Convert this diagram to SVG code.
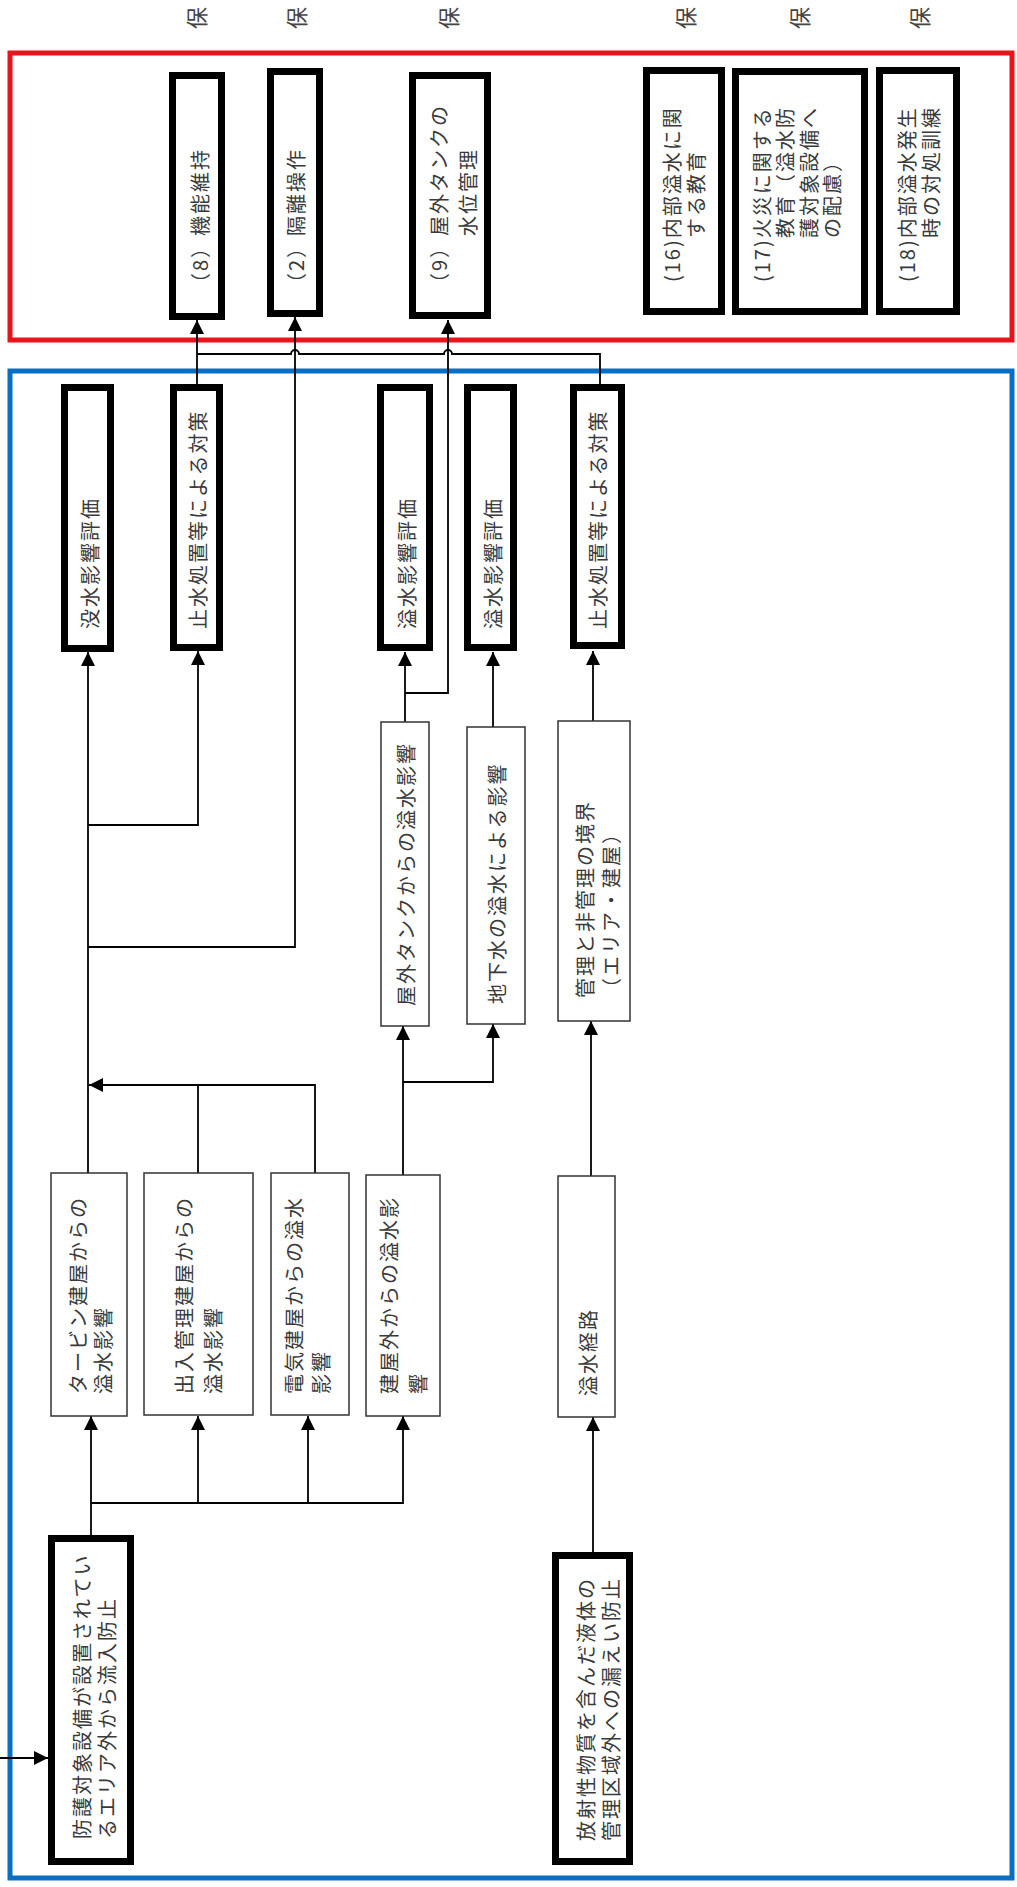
<svg xmlns="http://www.w3.org/2000/svg" width="1017" height="1887" viewBox="0 0 1017 1887">
<style>
.t{font-family:"Noto Sans CJK JP","Noto Sans",sans-serif;font-size:20px;letter-spacing:2px;fill:#3a3a3a;dominant-baseline:central}
.h{font-family:"Noto Sans CJK JP","Noto Sans",sans-serif;font-size:22px;fill:#444;dominant-baseline:central;text-anchor:middle}
.thick{fill:#fff;stroke:#000;stroke-width:7}
.thin{fill:#fff;stroke:#333;stroke-width:1.5}
.c{fill:none;stroke:#000;stroke-width:1.8}
</style>
<defs>
<marker id="ar" markerUnits="userSpaceOnUse" markerWidth="14" markerHeight="14" refX="14" refY="7" orient="auto">
<path d="M0,0 L14,7 L0,14 z" fill="#000"/>
</marker>
</defs>
<rect width="1017" height="1887" fill="#fff"/>

<g id="labels">
<text class="h" transform="translate(195,18) rotate(-90)">保</text>
<text class="h" transform="translate(295,18) rotate(-90)">保</text>
<text class="h" transform="translate(447,18) rotate(-90)">保</text>
<text class="h" transform="translate(684,18) rotate(-90)">保</text>
<text class="h" transform="translate(798,18) rotate(-90)">保</text>
<text class="h" transform="translate(918,18) rotate(-90)">保</text>
</g>

<g id="frames">
<rect id="red-frame" x="10" y="53" width="1002" height="287" fill="none" stroke="#e8141b" stroke-width="5"/>
<rect id="blue-frame" x="10" y="371" width="1002" height="1507" fill="none" stroke="#0a6fc2" stroke-width="5"/>
</g>

<g id="connectors">
<path class="c" d="M0,1758 H48" marker-end="url(#ar)"/>
<path class="c" d="M91,1535 V1416" marker-end="url(#ar)"/>
<path class="c" d="M91,1503 H403 V1416" marker-end="url(#ar)"/>
<path class="c" d="M198,1503 V1416" marker-end="url(#ar)"/>
<path class="c" d="M308,1503 V1416" marker-end="url(#ar)"/>
<path class="c" d="M88,1173 V652" marker-end="url(#ar)"/>
<path class="c" d="M198,1173 V1085"/>
<path class="c" d="M315,1173 V1085 H89" marker-end="url(#ar)"/>
<path class="c" d="M88,947 H295 V317" marker-end="url(#ar)"/>
<path class="c" d="M88,825 H198 V651" marker-end="url(#ar)"/>
<path class="c" d="M403,1175 V1026" marker-end="url(#ar)"/>
<path class="c" d="M403,1082 H493 V1024" marker-end="url(#ar)"/>
<path class="c" d="M405,722 V652" marker-end="url(#ar)"/>
<path class="c" d="M405,693 H448 V320" marker-end="url(#ar)"/>
<path class="c" d="M493,727 V652" marker-end="url(#ar)"/>
<path class="c" d="M593,1552 V1417" marker-end="url(#ar)"/>
<path class="c" d="M591,1176 V1021" marker-end="url(#ar)"/>
<path class="c" d="M593,721 V651" marker-end="url(#ar)"/>
<path class="c" d="M197,384 V320" marker-end="url(#ar)"/>
<path class="c" d="M600,384 V354 H452 a4,4 0 0 0 -8,0 H299 a4,4 0 0 0 -8,0 H197"/>
</g>

<g id="n8"><rect class="thick" x="172.5" y="75.5" width="49" height="241"/>
<text class="t" transform="translate(199,293) rotate(-90)">（8）機能維持</text></g>
<g id="n2"><rect class="thick" x="270.5" y="71.5" width="49" height="242"/>
<text class="t" transform="translate(295,293) rotate(-90)">（2）隔離操作</text></g>
<g id="n9"><rect class="thick" x="412.5" y="75.5" width="75" height="240"/>
<text class="t" transform="translate(452,293) rotate(-90)"><tspan x="0" y="-14.5">（9）屋外タンクの</tspan><tspan x="57" y="14.5">水位管理</tspan></text></g>
<g id="n16"><rect class="thick" x="646.5" y="70.5" width="75" height="241"/>
<text class="t" transform="translate(683,282) rotate(-90)"><tspan x="0" y="-12">(16)内部溢水に関</tspan><tspan x="44" y="12">する教育</tspan></text></g>
<g id="n17"><rect class="thick" x="735.5" y="71.5" width="129" height="240"/>
<text class="t" transform="translate(796,282) rotate(-90)"><tspan x="0" y="-35">(17)火災に関する</tspan><tspan x="44" y="-11.7">教育（溢水防</tspan><tspan x="44" y="11.7">護対象設備へ</tspan><tspan x="44" y="35">の配慮）</tspan></text></g>
<g id="n18"><rect class="thick" x="879.5" y="70.5" width="77" height="241"/>
<text class="t" transform="translate(917.5,282) rotate(-90)"><tspan x="0" y="-12">(18)内部溢水発生</tspan><tspan x="44" y="12">時の対処訓練</tspan></text></g>

<g id="bA"><rect class="thick" x="64.5" y="387.5" width="46" height="261"/>
<text class="t" transform="translate(89,629) rotate(-90)">没水影響評価</text></g>
<g id="bB"><rect class="thick" x="173.5" y="387.5" width="46" height="260"/>
<text class="t" transform="translate(197,629) rotate(-90)">止水処置等による対策</text></g>
<g id="bC"><rect class="thick" x="380.5" y="387.5" width="49" height="260"/>
<text class="t" transform="translate(406,629) rotate(-90)">溢水影響評価</text></g>
<g id="bD"><rect class="thick" x="467.5" y="387.5" width="46" height="260"/>
<text class="t" transform="translate(492,629) rotate(-90)">溢水影響評価</text></g>
<g id="bE"><rect class="thick" x="573.5" y="387.5" width="48" height="258"/>
<text class="t" transform="translate(597,629) rotate(-90)">止水処置等による対策</text></g>

<g id="m1"><rect class="thin" x="381" y="722" width="48" height="304"/>
<text class="t" transform="translate(405,1006) rotate(-90)">屋外タンクからの溢水影響</text></g>
<g id="m2"><rect class="thin" x="467" y="727" width="58" height="297"/>
<text class="t" transform="translate(496,1004) rotate(-90)">地下水の溢水による影響</text></g>
<g id="m3"><rect class="thin" x="558" y="721" width="72" height="300"/>
<text class="t" transform="translate(597,998) rotate(-90)"><tspan x="0" y="-13">管理と非管理の境界</tspan><tspan x="0" y="13">（エリア・建屋）</tspan></text></g>

<g id="t1"><rect class="thin" x="51" y="1173" width="76" height="243"/>
<text class="t" transform="translate(89.5,1394) rotate(-90)"><tspan x="0" y="-12.5">タービン建屋からの</tspan><tspan x="0" y="12.5">溢水影響</tspan></text></g>
<g id="t2"><rect class="thin" x="144" y="1173" width="109" height="242"/>
<text class="t" transform="translate(197.5,1394) rotate(-90)"><tspan x="0" y="-14.5">出入管理建屋からの</tspan><tspan x="0" y="14.5">溢水影響</tspan></text></g>
<g id="t3"><rect class="thin" x="271" y="1173" width="78" height="242"/>
<text class="t" transform="translate(306.5,1394) rotate(-90)"><tspan x="0" y="-13.5">電気建屋からの溢水</tspan><tspan x="0" y="13.5">影響</tspan></text></g>
<g id="t4"><rect class="thin" x="366" y="1175" width="74" height="241"/>
<text class="t" transform="translate(402.5,1394) rotate(-90)"><tspan x="0" y="-14.5">建屋外からの溢水影</tspan><tspan x="0" y="14.5">響</tspan></text></g>
<g id="t5"><rect class="thin" x="558" y="1176" width="57" height="241"/>
<text class="t" transform="translate(587,1396) rotate(-90)">溢水経路</text></g>

<g id="p1"><rect class="thick" x="51.5" y="1538.5" width="79" height="323"/>
<text class="t" transform="translate(93.5,1839) rotate(-90)"><tspan x="0" y="-12.5">防護対象設備が設置されてい</tspan><tspan x="0" y="12.5">るエリア外から流入防止</tspan></text></g>
<g id="p2"><rect class="thick" x="555.5" y="1555.5" width="74" height="306"/>
<text class="t" transform="translate(597.5,1841) rotate(-90)"><tspan x="0" y="-12.5">放射性物質を含んだ液体の</tspan><tspan x="0" y="12.5">管理区域外への漏えい防止</tspan></text></g>
</svg>
